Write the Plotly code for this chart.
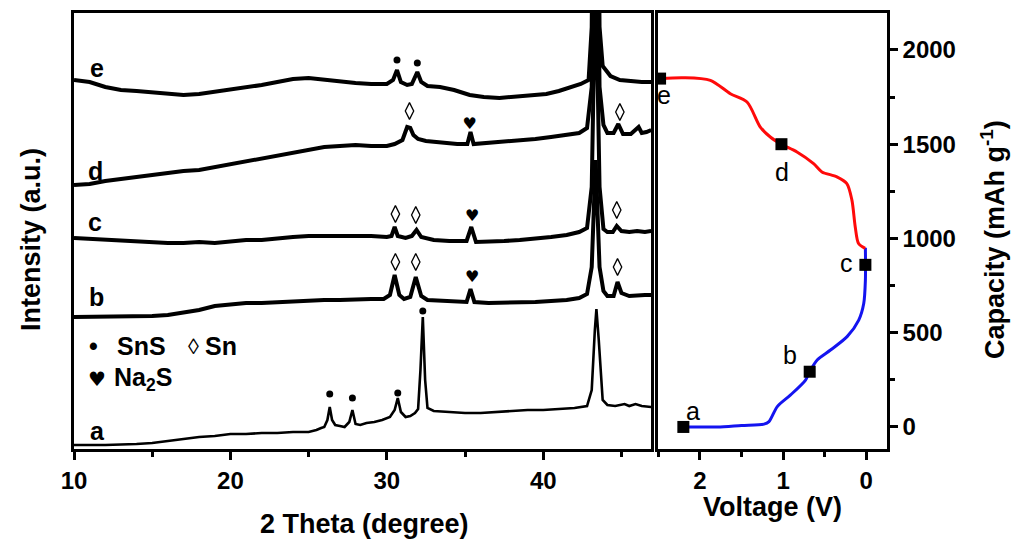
import plotly.graph_objects as go

W, H = 1011, 541

# ---------------- XRD patterns (2θ in degree, intensity in a.u., offset stacked) ----------------
a_2theta = [10, 12, 14, 15, 16, 17, 18, 19, 20, 21, 22, 23, 24, 25, 25.5, 25.8, 26.0, 26.2, 26.35, 26.5,
            26.7, 27.0, 27.3, 27.6, 27.8, 28.0, 28.3, 28.7, 29.2, 29.7, 30.2, 30.5, 30.7, 30.9, 31.2, 31.5,
            31.8, 32.0, 32.15, 32.3, 32.45, 32.6, 33, 34, 35, 36, 37, 38, 39, 40, 41, 42, 42.8, 43.1, 43.3,
            43.4, 43.55, 43.8, 44.1, 44.6, 45.2, 45.5, 45.9, 46.3, 46.9]
a_int = [2, 2, 3, 4, 6, 8, 10, 11, 13, 13, 14, 14, 15, 15, 17, 19, 20, 27, 40, 27,
         22, 21, 20, 25, 37, 23, 22, 24, 25, 27, 30, 37, 49, 35, 30, 31,
         34, 38, 77, 130, 67, 39, 36, 35, 34, 34, 35, 36, 37, 37, 38, 39, 41, 57, 117,
         138, 107, 47, 42, 41, 43, 41, 43, 41, 40]

b_2theta = [10, 12, 14, 15, 16, 17, 18, 19, 20, 21, 22, 23, 24, 25, 26, 27, 28, 29, 29.8, 30.2,
            30.5, 30.8, 31.1, 31.5, 31.85, 32.2, 32.6, 33.5, 34.5, 35.1, 35.35, 35.6, 36.5, 37.5, 38.5,
            39.5, 40.5, 41.5, 42.3, 42.8, 43.1, 43.35, 43.6, 43.85, 44.1, 44.5, 44.75, 45.0, 45.5, 46,
            46.5, 46.9]
b_int = [130, 130, 130, 131, 132, 134, 137, 141, 143, 144, 144, 145, 145, 146, 147, 147, 148, 148, 148, 152,
         172, 152, 148, 150, 170, 151, 147, 146, 145, 145, 158, 145, 144, 144, 145,
         145, 146, 147, 149, 153, 180, 287, 180, 156, 151, 151, 165, 154, 151, 152,
         152, 152]

c_2theta = [10, 11, 12, 13, 14, 15, 16, 17, 18, 19, 20, 21, 22, 23, 24, 25, 26, 27, 28, 29, 30,
            30.3, 30.5, 30.7, 31.2, 31.6, 31.9, 32.2, 33, 34, 35.1, 35.4, 35.7, 36.5, 37.5, 38.5, 39.5,
            40.5, 41.5, 42.3, 42.8, 43.1, 43.35, 43.6, 43.85, 44.1, 44.45, 44.7, 45.0, 45.5, 46, 46.5, 46.9]
c_int = [209, 208, 207, 207, 206, 205, 204, 204, 205, 204, 206, 207, 207, 209, 210, 211, 211, 212, 211, 211, 210,
         211, 220, 211, 209, 211, 217, 210, 207, 206, 206, 220, 205, 205, 206, 207, 208,
         210, 212, 215, 219, 260, 480, 260, 218, 215, 215, 221, 216, 215, 216, 215, 216]

d_2theta = [10, 11, 12, 13, 14, 15, 16, 17, 18, 19, 20, 21, 22, 23, 24, 25, 26, 27, 28, 29, 30,
            30.5, 31.0, 31.3, 31.5, 31.7, 32.0, 32.5, 33.5, 34.5, 35.15, 35.35, 35.55, 36.5, 37.5, 38.5,
            39.5, 40.5, 41.5, 42.3, 42.8, 43.1, 43.35, 43.6, 43.85, 44.1, 44.5, 44.8, 45.1, 45.6, 46.1,
            46.3, 46.6, 46.9]
d_int = [262, 263, 266, 268, 271, 272, 274, 276, 277, 280, 282, 285, 289, 292, 295, 298, 300, 301, 302, 301, 301,
         303, 307, 320, 319, 312, 308, 306, 304, 303, 303, 315, 303, 304, 305, 306,
         308, 310, 312, 314, 319, 360, 700, 360, 322, 314, 314, 323, 313, 313, 320,
         314, 315, 317]

e_2theta = [10, 11, 12, 13, 14, 15, 16, 17, 18, 19, 20, 21, 22, 23, 24, 25, 26, 27, 28, 29, 30,
            30.4, 30.65, 30.9, 31.3, 31.6, 31.95, 32.2, 32.6, 33.4, 34.3, 35.3, 36.2, 37.2, 38.2, 39.2,
            40.2, 41.0, 41.7, 42.4, 42.9, 43.1, 43.35, 43.6, 43.8, 44.0, 44.3, 44.9, 45.5, 46.3, 46.9]
e_int = [367, 365, 360, 357, 356, 355, 354, 352, 353, 355, 357, 359, 362, 365, 368, 369, 367, 365, 364, 363, 363,
         367, 377, 365, 362, 363, 375, 365, 361, 360, 357, 352, 350, 349, 350, 351,
         353, 356, 359, 363, 367, 420, 900, 420, 381, 377, 371, 367, 366, 365, 365]

# phase markers above the peaks
sns_2theta = [30.65, 31.95, 26.35, 27.8, 30.7, 32.3]
sns_int = [387, 384, 53, 49, 54, 136]
sn_2theta = [31.45, 44.9, 30.55, 31.85, 44.7, 30.55, 31.85, 44.75]
sn_int = [336, 335, 233, 232, 237, 185, 185, 180]
na2s_2theta = [35.3, 35.45, 35.45]
na2s_int = [322, 230, 169]

pattern_labels = ["a", "b", "c", "d", "e"]

# ---------------- discharge / charge profile ----------------
dis_v = [2.20, 1.79, 1.50, 1.23, 1.17, 1.07, 0.91, 0.73, 0.68, 0.59, 0.43, 0.23, 0.09, 0.03, 0.01, 0.01]
dis_c = [0, 0, 8, 15, 28, 108, 170, 249, 293, 355, 408, 479, 567, 655, 779, 950]
chg_v = [0.012, 0.092, 0.132, 0.172, 0.233, 0.353, 0.533, 0.633, 0.833, 1.022, 1.154, 1.274, 1.434,
         1.635, 1.875, 2.20, 2.476]
chg_c = [947, 973, 1061, 1203, 1291, 1327, 1353, 1397, 1459, 1500, 1538, 1591, 1724,
         1768, 1839, 1853, 1848]
pt_v = [2.20, 0.68, 0.01, 1.02, 2.48]
pt_c = [0, 293, 860, 1500, 1848]
pt_labels = ["a", "b", "c", "d", "e"]

FONT = "Arial, Liberation Sans, sans-serif"


def px(x):
    return x / W


def py(y):
    return 1 - y / H


fig = go.Figure()

patterns = [(a_2theta, a_int, 2.6), (b_2theta, b_int, 4), (c_2theta, c_int, 4),
            (d_2theta, d_int, 4), (e_2theta, e_int, 4)]
for xs, ys, w in patterns:
    fig.add_trace(go.Scatter(x=xs, y=ys, mode="lines", line=dict(color="black", width=w),
                             xaxis="x", yaxis="y", showlegend=False, hoverinfo="skip"))

fig.add_trace(go.Scatter(x=sns_2theta, y=sns_int, mode="markers",
                         marker=dict(symbol="circle", size=7, color="black"),
                         xaxis="x", yaxis="y", showlegend=False))
fig.add_trace(go.Scatter(x=sn_2theta, y=sn_int, mode="markers",
                         marker=dict(symbol="diamond-tall-open", size=12, color="black",
                                     line=dict(width=1.3, color="black")),
                         xaxis="x", yaxis="y", showlegend=False))
fig.add_trace(go.Scatter(x=na2s_2theta, y=na2s_int, mode="text", text=["♥"] * len(na2s_2theta),
                         textfont=dict(size=16, color="black", family="DejaVu Sans"),
                         xaxis="x", yaxis="y", showlegend=False))

fig.add_trace(go.Scatter(x=dis_v, y=dis_c, mode="lines",
                         line=dict(color="#1414f0", width=3, shape="spline", smoothing=0.8),
                         xaxis="x2", yaxis="y2", showlegend=False))
fig.add_trace(go.Scatter(x=chg_v, y=chg_c, mode="lines",
                         line=dict(color="#ff0a0a", width=3, shape="spline", smoothing=0.8),
                         xaxis="x2", yaxis="y2", showlegend=False))
fig.add_trace(go.Scatter(x=pt_v, y=pt_c, mode="markers",
                         marker=dict(symbol="square", size=12, color="black"),
                         xaxis="x2", yaxis="y2", showlegend=False))

tickfont = dict(family=FONT, size=24, color="black", weight="bold")
ydom = [py(449), py(13)]
axis_common = dict(showline=True, linewidth=2.5, linecolor="black", mirror=True,
                   showgrid=False, zeroline=False, automargin=False)

fig.update_layout(
    width=W, height=H, margin=dict(l=0, r=0, t=0, b=0, autoexpand=False),
    paper_bgcolor="white", plot_bgcolor="white",
    font=dict(family=FONT, color="black"),
    xaxis=dict(domain=[px(74), px(651)], range=[10, 46.89], anchor="y",
               ticks="outside", ticklen=8, tickwidth=2.5, tickcolor="black",
               tickvals=[10, 20, 30, 40], tickfont=tickfont,
               minor=dict(tickvals=[15, 25, 35, 45], ticks="outside", ticklen=5,
                          tickwidth=2.5, tickcolor="black"),
               **axis_common),
    yaxis=dict(domain=ydom, range=[-2, 434], anchor="x", showticklabels=False, ticks="",
               **axis_common),
    xaxis2=dict(domain=[px(658), px(887)], range=[2.505, -0.25], anchor="y2",
                ticks="outside", ticklen=8, tickwidth=2.5, tickcolor="black",
                tickvals=[0, 1, 2], tickfont=tickfont,
                minor=dict(tickvals=[0.5, 1.5, 2.5], ticks="outside", ticklen=5,
                           tickwidth=2.5, tickcolor="black"),
                **axis_common),
    yaxis2=dict(domain=ydom, range=[-117, 2196], anchor="x2", side="right",
                ticks="outside", ticklen=8, tickwidth=2.5, tickcolor="black",
                tickvals=[0, 500, 1000, 1500, 2000], tickfont=tickfont,
                minor=dict(tickvals=[250, 750, 1250, 1750], ticks="outside", ticklen=5,
                           tickwidth=2.5, tickcolor="black"),
                **axis_common),
)

bold27 = dict(family=FONT, size=27, color="black", weight="bold")
bold25 = dict(family=FONT, size=25, color="black", weight="bold")
reg25 = dict(family=FONT, size=25, color="black")

ann = []
# axis titles
ann.append(dict(x=px(364), y=py(524), text="2 Theta (degree)", font=bold27))
ann.append(dict(x=px(772), y=py(507), text="Voltage (V)", font=bold27))
ann.append(dict(x=px(31), y=py(240), text="Intensity (a.u.)", font=bold27, textangle=-90))
ann.append(dict(x=px(993), y=py(240), text="Capacity (mAh g<sup>-1</sup>)", font=bold27, textangle=-90))

# pattern labels on the XRD panel
left_label_pos = [(97, 431), (96, 297), (95, 222), (95, 171), (97, 68)]
for t, (lx, ly) in zip(pattern_labels, left_label_pos):
    ann.append(dict(x=px(lx), y=py(ly), text=t, font=bold25))

# point labels on the profile panel
right_label_pos = [(693, 411), (790, 355), (846, 263), (782, 172), (664, 95)]
for t, (lx, ly) in zip(pt_labels, right_label_pos):
    ann.append(dict(x=px(lx), y=py(ly), text=t, font=reg25))

# legend of phase symbols
ann.append(dict(x=px(93), y=py(346), text="•", font=bold25))
ann.append(dict(x=px(115), y=py(346), text="SnS", font=bold25, xanchor="left"))
ann.append(dict(x=px(193), y=py(346), text="◊", font=dict(family=FONT, size=22, color="black")))
ann.append(dict(x=px(203), y=py(346), text="Sn", font=bold25, xanchor="left"))
ann.append(dict(x=px(97), y=py(379), text="♥", font=dict(family="DejaVu Sans", size=20, color="black")))
ann.append(dict(x=px(112), y=py(379), text="Na<sub>2</sub>S", font=bold25, xanchor="left"))

for a in ann:
    a.setdefault("xref", "paper")
    a.setdefault("yref", "paper")
    a.setdefault("showarrow", False)
    a.setdefault("xanchor", "center")
    a.setdefault("yanchor", "middle")
fig.update_layout(annotations=ann)

fig.write_html("out.html")
